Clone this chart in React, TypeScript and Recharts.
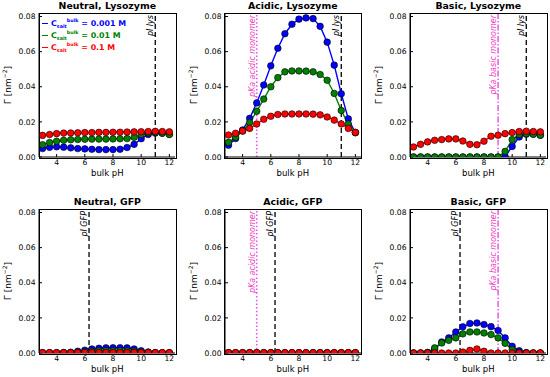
import React from 'react';
import { LineChart, Line, XAxis, YAxis, ReferenceLine } from 'recharts';

// ── Data ──

const phValues = [3, 3.5, 4, 4.5, 5, 5.5, 6, 6.5, 7, 7.5, 8, 8.5, 9, 9.5, 10, 10.5, 11, 11.5, 12];
const xTicks = [4, 6, 8, 10, 12];
const yTicks = [0, 0.02, 0.04, 0.06, 0.08];
const saltLabels = ['0.001 M', '0.01 M', '0.1 M'];

// Neutral, Lysozyme
const neutralLysBlue = [0.0048, 0.0055, 0.0058, 0.0056, 0.0052, 0.0048, 0.0046, 0.0044, 0.0042, 0.0042, 0.0042, 0.0044, 0.0054, 0.0072, 0.0104, 0.0128, 0.0136, 0.0135, 0.013];
const neutralLysGreen = [0.007, 0.0082, 0.009, 0.0095, 0.0098, 0.01, 0.0101, 0.0102, 0.0102, 0.0102, 0.0103, 0.0104, 0.0105, 0.0112, 0.0128, 0.0138, 0.014, 0.0136, 0.0128];
const neutralLysRed = [0.0123, 0.0128, 0.0133, 0.0136, 0.0137, 0.0138, 0.0139, 0.0139, 0.014, 0.014, 0.0141, 0.0141, 0.0142, 0.0143, 0.0144, 0.0145, 0.0146, 0.0145, 0.0143];

// Acidic, Lysozyme
const acidicLysBlue = [0.0067, 0.0105, 0.0154, 0.022, 0.0308, 0.041, 0.0519, 0.0619, 0.0702, 0.0756, 0.0785, 0.0792, 0.0788, 0.0744, 0.0654, 0.0523, 0.036, 0.0217, 0.0138];
const acidicLysGreen = [0.0083, 0.0112, 0.0148, 0.0196, 0.026, 0.033, 0.04, 0.0452, 0.0485, 0.049, 0.049, 0.0489, 0.0485, 0.047, 0.0437, 0.0362, 0.0265, 0.0188, 0.014];
const acidicLysRed = [0.0125, 0.0135, 0.0148, 0.0163, 0.0188, 0.0215, 0.0232, 0.0242, 0.0245, 0.0245, 0.0245, 0.0245, 0.0244, 0.024, 0.0228, 0.021, 0.0188, 0.0163, 0.014];

// Basic, Lysozyme
const basicLysBlue = [0, 0, 0, 0, 0, 0, 0, 0, 0, 0, 0, 0, 0, 0.0002, 0.006, 0.0114, 0.013, 0.013, 0.0124];
const basicLysGreen = [0, 0, 0, 0, 0, 0, 0, 0, 0, 0, 0, 0, 0, 0.0032, 0.0099, 0.0128, 0.0133, 0.013, 0.0124];
const basicLysRed = [0.0057, 0.0072, 0.0086, 0.0095, 0.0099, 0.0103, 0.0103, 0.0091, 0.0072, 0.007, 0.009, 0.0118, 0.0124, 0.0133, 0.0139, 0.0145, 0.0147, 0.0145, 0.0143];

// Neutral, GFP
const neutralGfpBlue = [0.0001, 0.0001, 0.0001, 0.0002, 0.0004, 0.001, 0.0016, 0.0023, 0.0027, 0.0029, 0.003, 0.003, 0.0029, 0.0023, 0.0013, 0.0006, 0.0002, 0.0001, 0.0001];
const neutralGfpGreen = [0, 0, 0, 0.0001, 0.0002, 0.0004, 0.0007, 0.001, 0.0012, 0.0013, 0.0013, 0.0013, 0.0012, 0.001, 0.0006, 0.0003, 0.0001, 0, 0];
const neutralGfpRed = [0.0002, 0.0002, 0.0002, 0.0002, 0.0002, 0.0002, 0.0002, 0.0002, 0.0002, 0.0002, 0.0002, 0.0002, 0.0002, 0.0002, 0.0002, 0.0002, 0.0002, 0.0002, 0.0002];

// Acidic, GFP
const acidicGfpBlue = [0.0001, 0.0001, 0.0001, 0.0001, 0.0001, 0.0001, 0.0001, 0.0001, 0.0001, 0.0001, 0.0001, 0.0001, 0.0001, 0.0001, 0.0001, 0.0001, 0.0001, 0.0001, 0.0001];
const acidicGfpGreen = [0.0001, 0.0001, 0.0001, 0.0001, 0.0001, 0.0001, 0.0001, 0.0001, 0.0001, 0.0001, 0.0001, 0.0001, 0.0001, 0.0001, 0.0001, 0.0001, 0.0001, 0.0001, 0.0001];
const acidicGfpRed = [0.0002, 0.0002, 0.0002, 0.0002, 0.0002, 0.0002, 0.0002, 0.0002, 0.0002, 0.0002, 0.0002, 0.0002, 0.0002, 0.0002, 0.0002, 0.0002, 0.0002, 0.0002, 0.0002];

// Basic, GFP
const basicGfpBlue = [0, 0, 0.0002, 0.0019, 0.0063, 0.0086, 0.012, 0.0149, 0.0168, 0.0171, 0.0162, 0.015, 0.0128, 0.0086, 0.0038, 0.0013, 0.0002, 0, 0];
const basicGfpGreen = [0, 0, 0.0003, 0.0029, 0.0057, 0.0072, 0.0086, 0.0109, 0.012, 0.012, 0.0114, 0.0105, 0.0086, 0.0055, 0.0019, 0.0003, 0, 0, 0];
const basicGfpRed = [0, 0, 0, 0, 0, 0, 0, 0.0005, 0.0015, 0.0023, 0.001, 0, 0, 0, 0, 0, 0, 0, 0];

const PI_LYS = 11;
const PI_GFP = 6.3;
const PKA_ACIDIC = 5;
const PKA_BASIC = 9;

// ── Layout ──

const FONT = '"DejaVu Sans", sans-serif';
const COLORS = ['#0000ff', '#008000', '#ff0000'];
const X_DOMAIN = [2.75, 12.4];
const Y_DOMAIN = [0, 0.082];
const COL_LEFT = [39.3, 224.8, 410.3];
const ROW_TOP = [13.3, 209.3];
const PLOT_W = 136;
const PLOT_H = 144;
const Y_AXIS_W = 38;
const M_TOP = 6;
const M_RIGHT = 4;
const X_AXIS_H = 22;

type VLine = { x: number; kind: 'pi' | 'acid' | 'base'; text: string };

const panels: { title: string; series: number[][]; vlines: VLine[] }[] = [
  {
    title: 'Neutral, Lysozyme',
    series: [neutralLysBlue, neutralLysGreen, neutralLysRed],
    vlines: [{ x: PI_LYS, kind: 'pi', text: 'pI lys' }],
  },
  {
    title: 'Acidic, Lysozyme',
    series: [acidicLysBlue, acidicLysGreen, acidicLysRed],
    vlines: [
      { x: PKA_ACIDIC, kind: 'acid', text: 'pKa acidic monomer' },
      { x: PI_LYS, kind: 'pi', text: 'pI lys' },
    ],
  },
  {
    title: 'Basic, Lysozyme',
    series: [basicLysBlue, basicLysGreen, basicLysRed],
    vlines: [
      { x: PKA_BASIC, kind: 'base', text: 'pKa basic monomer' },
      { x: PI_LYS, kind: 'pi', text: 'pI lys' },
    ],
  },
  {
    title: 'Neutral, GFP',
    series: [neutralGfpBlue, neutralGfpGreen, neutralGfpRed],
    vlines: [{ x: PI_GFP, kind: 'pi', text: 'pI GFP' }],
  },
  {
    title: 'Acidic, GFP',
    series: [acidicGfpBlue, acidicGfpGreen, acidicGfpRed],
    vlines: [
      { x: PKA_ACIDIC, kind: 'acid', text: 'pKa acidic monomer' },
      { x: PI_GFP, kind: 'pi', text: 'pI GFP' },
    ],
  },
  {
    title: 'Basic, GFP',
    series: [basicGfpBlue, basicGfpGreen, basicGfpRed],
    vlines: [
      { x: PI_GFP, kind: 'pi', text: 'pI GFP' },
      { x: PKA_BASIC, kind: 'base', text: 'pKa basic monomer' },
    ],
  },
];

const lineStyle = {
  pi: { stroke: '#000', dash: '5 3', width: 1.3, text: '#000' },
  acid: { stroke: '#e855e8', dash: '1.5 2.2', width: 1.6, text: '#f03cc0' },
  base: { stroke: '#e030e0', dash: '6 2 1.5 2', width: 1.2, text: '#f03cc0' },
};

// ── Pieces ──

function VLabel(props: any) {
  const { viewBox, text, color } = props;
  if (!viewBox) return null;
  const x = viewBox.x - 1.8;
  const y = viewBox.y + 2;
  return (
    <text
      x={x}
      y={y}
      transform={`rotate(-90 ${x} ${y})`}
      textAnchor="end"
      fill={color}
      fontSize={8}
      fontStyle="italic"
      fontFamily={FONT}
    >
      {text}
    </text>
  );
}

const tickStyle = { fontSize: 7.6, fill: '#000', fontFamily: FONT };

function Panel({ index }: { index: number }) {
  const p = panels[index];
  const col = index % 3;
  const row = Math.floor(index / 3);
  const data = phValues.map((ph, i) => ({ ph, b: p.series[0][i], g: p.series[1][i], r: p.series[2][i] }));
  const left = COL_LEFT[col];
  const top = ROW_TOP[row];
  const cx = left + PLOT_W / 2;
  const cy = top + PLOT_H / 2;

  return (
    <>
      <div
        style={{
          position: 'absolute',
          left: left - 20,
          width: PLOT_W + 40,
          top: top - 13.5,
          lineHeight: '12px',
          textAlign: 'center',
          fontFamily: FONT,
          fontWeight: 'bold',
          fontSize: 9.4,
        }}
      >
        {p.title}
      </div>
      <div
        style={{
          position: 'absolute',
          left: cx - 40,
          width: 80,
          top: top + PLOT_H + 10,
          lineHeight: '12px',
          textAlign: 'center',
          fontFamily: FONT,
          fontSize: 8.5,
        }}
      >
        bulk pH
      </div>
      <div
        style={{
          position: 'absolute',
          left: left - 31 - 50,
          width: 100,
          top: cy - 6,
          height: 12,
          lineHeight: '12px',
          textAlign: 'center',
          fontFamily: FONT,
          fontSize: 9,
          transform: 'rotate(-90deg)',
          whiteSpace: 'nowrap',
        }}
      >
        Γ [nm<sup style={{ fontSize: 6, verticalAlign: 4, lineHeight: 0 }}>−2</sup>]
      </div>
      <div style={{ position: 'absolute', left: left - Y_AXIS_W, top: top - M_TOP }}>
        <LineChart
          width={Y_AXIS_W + PLOT_W + M_RIGHT}
          height={M_TOP + PLOT_H + X_AXIS_H}
          data={data}
          margin={{ top: M_TOP, right: M_RIGHT, left: 0, bottom: 0 }}
        >
          <XAxis
            dataKey="ph"
            type="number"
            domain={X_DOMAIN}
            ticks={xTicks}
            allowDataOverflow
            height={X_AXIS_H}
            stroke="#000"
            tickSize={-3}
            tickMargin={6}
            tick={tickStyle}
          />
          <XAxis
            xAxisId="top"
            dataKey="ph"
            type="number"
            orientation="top"
            domain={X_DOMAIN}
            ticks={xTicks}
            allowDataOverflow
            height={0}
            stroke="#000"
            tickSize={-3}
            tickFormatter={() => ''}
          />
          <YAxis
            type="number"
            domain={Y_DOMAIN}
            ticks={yTicks}
            allowDataOverflow
            width={Y_AXIS_W}
            stroke="#000"
            tickSize={-3}
            tickMargin={6.5}
            tick={tickStyle}
            tickFormatter={(v: number) => v.toFixed(2)}
          />
          <YAxis
            yAxisId="right"
            orientation="right"
            type="number"
            domain={Y_DOMAIN}
            ticks={yTicks}
            allowDataOverflow
            width={0}
            stroke="#000"
            tickSize={-3}
            tickFormatter={() => ''}
          />
          {p.vlines.map((v, i) => {
            const s = lineStyle[v.kind];
            return (
              <ReferenceLine
                key={i}
                x={v.x}
                stroke={s.stroke}
                strokeDasharray={s.dash}
                strokeWidth={s.width}
                label={<VLabel text={v.text} color={s.text} />}
              />
            );
          })}
          {['b', 'g', 'r'].map((k, i) => (
            <Line
              key={k}
              dataKey={k}
              stroke={COLORS[i]}
              strokeWidth={1.4}
              dot={{ r: 3.3, fill: COLORS[i], stroke: '#000', strokeWidth: 0.6 }}
              isAnimationActive={false}
            />
          ))}
        </LineChart>
      </div>
      <div
        style={{
          position: 'absolute',
          left: left - 0.6,
          top: top - 0.6,
          width: PLOT_W,
          height: PLOT_H,
          border: '1.2px solid #000',
          pointerEvents: 'none',
        }}
      />
    </>
  );
}

function Legend() {
  return (
    <div style={{ position: 'absolute', left: 42, top: 17.5, fontFamily: FONT, fontWeight: 'bold', fontSize: 7.9 }}>
      {saltLabels.map((lab, i) => (
        <div key={i} style={{ height: 12, lineHeight: '12px', color: COLORS[i], whiteSpace: 'nowrap' }}>
          <span
            style={{
              display: 'inline-block',
              width: 6,
              height: 1.5,
              background: COLORS[i],
              verticalAlign: 'middle',
              marginRight: 3,
            }}
          />
          C<sub style={{ fontSize: 4.8, verticalAlign: -2, lineHeight: 0 }}>salt</sub>
          <sup style={{ fontSize: 4.8, verticalAlign: 4, lineHeight: 0 }}>bulk</sup> = {lab}
        </div>
      ))}
    </div>
  );
}

export default function App() {
  return (
    <div style={{ position: 'fixed', left: 0, top: 0, width: 550, height: 377, background: '#fff', overflow: 'hidden' }}>
      {panels.map((_, i) => (
        <Panel key={i} index={i} />
      ))}
      <Legend />
    </div>
  );
}
